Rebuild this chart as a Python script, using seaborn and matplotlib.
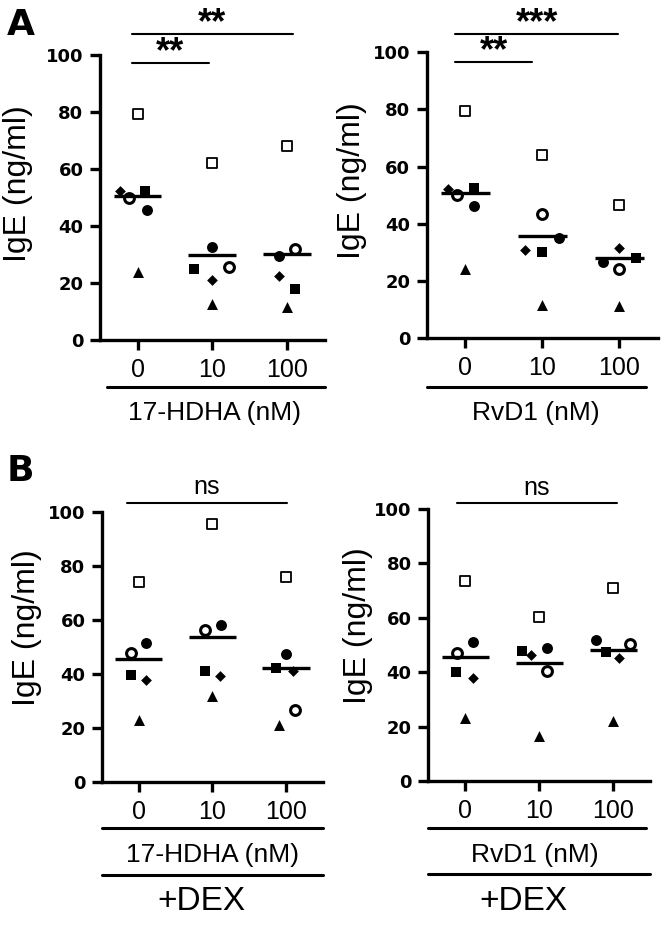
import pandas as pd
import seaborn as sns
import matplotlib.pyplot as plt

sns.set_style("ticks")
plt.rcParams["font.family"] = ["Liberation Sans", "DejaVu Sans"]
plt.rcParams["text.color"] = "black"
plt.rcParams["axes.labelcolor"] = "black"
plt.rcParams["xtick.color"] = "black"
plt.rcParams["ytick.color"] = "black"
plt.rcParams["axes.edgecolor"] = "black"

DOSES = ["0", "10", "100"]
SUBJECTS = ["open square", "diamond", "open circle", "filled square", "filled circle", "triangle"]

# IgE (ng/ml): one row per dose (0, 10, 100 nM), columns in SUBJECTS order
HDHA_IGE = [
    [79.2, 52.4, 50.0, 52.4, 45.6, 24.0],
    [62.0, 21.1, 25.5, 25.1, 32.5, 12.6],
    [68.1, 22.5, 32.0, 18.1, 29.5, 11.7],
]
RVD1_IGE = [
    [79.3, 52.3, 50.0, 52.7, 46.2, 24.4],
    [64.0, 30.8, 43.3, 30.0, 34.9, 11.6],
    [46.7, 31.4, 24.4, 28.1, 26.7, 11.3],
]
HDHA_DEX_IGE = [
    [73.8, 37.6, 47.7, 39.7, 51.4, 23.0],
    [95.3, 39.3, 56.3, 41.1, 57.9, 31.7],
    [75.7, 40.9, 26.7, 42.1, 47.4, 21.2],
]
RVD1_DEX_IGE = [
    [73.6, 37.7, 47.2, 39.9, 51.2, 23.0],
    [60.4, 46.3, 40.4, 47.9, 49.0, 16.5],
    [71.1, 45.3, 50.2, 47.5, 51.8, 22.1],
]

# horizontal spread of the dots inside each dose column (layout only)
HDHA_SPREAD = [[0, -0.24, -0.12, 0.10, 0.12, 0], [0, 0, 0.22, -0.25, 0, 0], [0, -0.11, 0.10, 0.10, -0.11, 0]]
RVD1_SPREAD = [[0, -0.23, -0.11, 0.11, 0.11, 0], [0, -0.22, 0, 0, 0.22, 0], [0, 0, 0, 0.22, -0.21, 0]]
HDHA_DEX_SPREAD = [[0, 0.10, -0.10, -0.11, 0.10, 0], [0, 0.10, -0.10, -0.10, 0.11, 0], [0, 0.10, 0.12, -0.13, 0, -0.10]]
RVD1_DEX_SPREAD = [[0, 0.11, -0.11, -0.12, 0.11, 0], [0, -0.11, 0.11, -0.23, 0.11, 0], [0, 0.08, 0.23, -0.10, -0.24, 0]]

# marker, face colour, size, edge width
STYLES = {
    "open square": ("s", "white", 52, 1.3),
    "diamond": ("D", "black", 30, 0),
    "open circle": ("o", "white", 50, 2.2),
    "filled square": ("s", "black", 55, 0),
    "filled circle": ("o", "black", 62, 0),
    "triangle": ("^", "black", 62, 0),
}

LW = 2.4


def to_frame(values, spread):
    rows = []
    for i, dose in enumerate(DOSES):
        for j, subj in enumerate(SUBJECTS):
            rows.append({"dose": dose, "idx": i, "pos": i + spread[i][j], "subject": subj, "ige": values[i][j]})
    return pd.DataFrame(rows)


def draw_panel(ax, values, spread, drug, bars, label_x, label_y, text_y, dex=False):
    df = to_frame(values, spread)
    for subj in SUBJECTS:
        marker, face, size, ew = STYLES[subj]
        sns.scatterplot(data=df[df["subject"] == subj], x="pos", y="ige", marker=marker, s=size,
                        color=face, edgecolor="black", linewidth=ew, ax=ax, clip_on=False, zorder=3,
                        legend=False)

    # horizontal line at the group mean
    means = df.groupby("idx")["ige"].mean()
    ax.hlines(means.values, means.index - 0.32, means.index + 0.32, color="black", lw=LW, zorder=4)

    for x1, x2, y, lab in bars:
        ax.plot([x1, x2], [y, y], color="black", lw=1.5, clip_on=False)
        if lab == "ns":
            ax.annotate(lab, xy=((x1 + x2) / 2, y), xytext=(0, 6), textcoords="offset points",
                        ha="center", va="baseline", fontsize=18, annotation_clip=False)
        else:
            ax.annotate(lab, xy=((x1 + x2) / 2, y), xytext=(0, 0.5), textcoords="offset points",
                        ha="center", va="baseline", fontsize=26, fontweight="bold", annotation_clip=False)

    ax.set_xlim(-0.5, 2.5)
    ax.set_ylim(0, 100)
    ax.set_xticks([0, 1, 2])
    ax.set_xticklabels(DOSES, fontsize=18)
    ax.set_yticks(range(0, 101, 20))
    for t in ax.get_yticklabels():
        t.set_fontfamily("DejaVu Sans")
        t.set_fontweight("bold")
        t.set_fontsize(13)
    ax.set_xlabel("")
    ax.set_ylabel("IgE (ng/ml)", fontsize=23)
    ax.yaxis.set_label_coords(label_x, label_y)
    sns.despine(ax=ax)
    for side in ["left", "bottom"]:
        ax.spines[side].set_linewidth(LW)
    ax.tick_params(width=LW, length=7, color="black")
    ax.tick_params(axis="x", pad=6)
    ax.tick_params(axis="y", pad=5)

    ax.plot([text_y[0], text_y[1]], [text_y[2], text_y[2]], transform=ax.transAxes, color="black",
            lw=2.2, clip_on=False)
    ax.text(text_y[3], text_y[4], drug, transform=ax.transAxes, ha="center", va="baseline", fontsize=19)
    if dex:
        ax.plot([0, 1.0], [text_y[5], text_y[5]], transform=ax.transAxes, color="black",
                lw=2.2, clip_on=False)
        ax.text(text_y[6], text_y[7], "+DEX", transform=ax.transAxes, ha="center", va="baseline",
                fontsize=24)


fig = plt.figure(figsize=(6.67, 9.32), dpi=100)
fig.patch.set_facecolor("white")

ax1 = fig.add_axes([0.150, 0.635, 0.337, 0.306])
ax2 = fig.add_axes([0.640, 0.637, 0.346, 0.307])
ax3 = fig.add_axes([0.153, 0.161, 0.331, 0.290])
ax4 = fig.add_axes([0.642, 0.162, 0.333, 0.292])

draw_panel(ax1, HDHA_IGE, HDHA_SPREAD, "17-HDHA (nM)",
           [(-0.08, 0.95, 97.2, "**"), (-0.08, 2.08, 107.4, "**")],
           -0.30, 0.55, (0.03, 1.0, -0.165, 0.51, -0.281))
draw_panel(ax2, RVD1_IGE, RVD1_SPREAD, "RvD1 (nM)",
           [(-0.13, 0.87, 96.5, "**"), (-0.13, 1.99, 106.5, "***")],
           -0.26, 0.55, (0.0, 0.95, -0.171, 0.47, -0.287))
draw_panel(ax3, HDHA_DEX_IGE, HDHA_DEX_SPREAD, "17-HDHA (nM)",
           [(-0.16, 2.01, 103.3, "ns")],
           -0.27, 0.57, (0.0, 1.0, -0.170, 0.50, -0.296, -0.344, 0.45, -0.474), dex=True)
draw_panel(ax4, RVD1_DEX_IGE, RVD1_DEX_SPREAD, "RvD1 (nM)",
           [(-0.11, 2.05, 102.2, "ns")],
           -0.25, 0.57, (0.0, 0.98, -0.173, 0.48, -0.298, -0.342, 0.43, -0.474), dex=True)

fig.text(7 / 667, 1 - 8 / 932, "A", fontsize=26, fontweight="bold", family="DejaVu Sans", va="top", ha="left")
fig.text(7 / 667, 1 - 454 / 932, "B", fontsize=26, fontweight="bold", family="DejaVu Sans", va="top", ha="left")

fig.savefig("out.png", dpi=100, facecolor="white")
